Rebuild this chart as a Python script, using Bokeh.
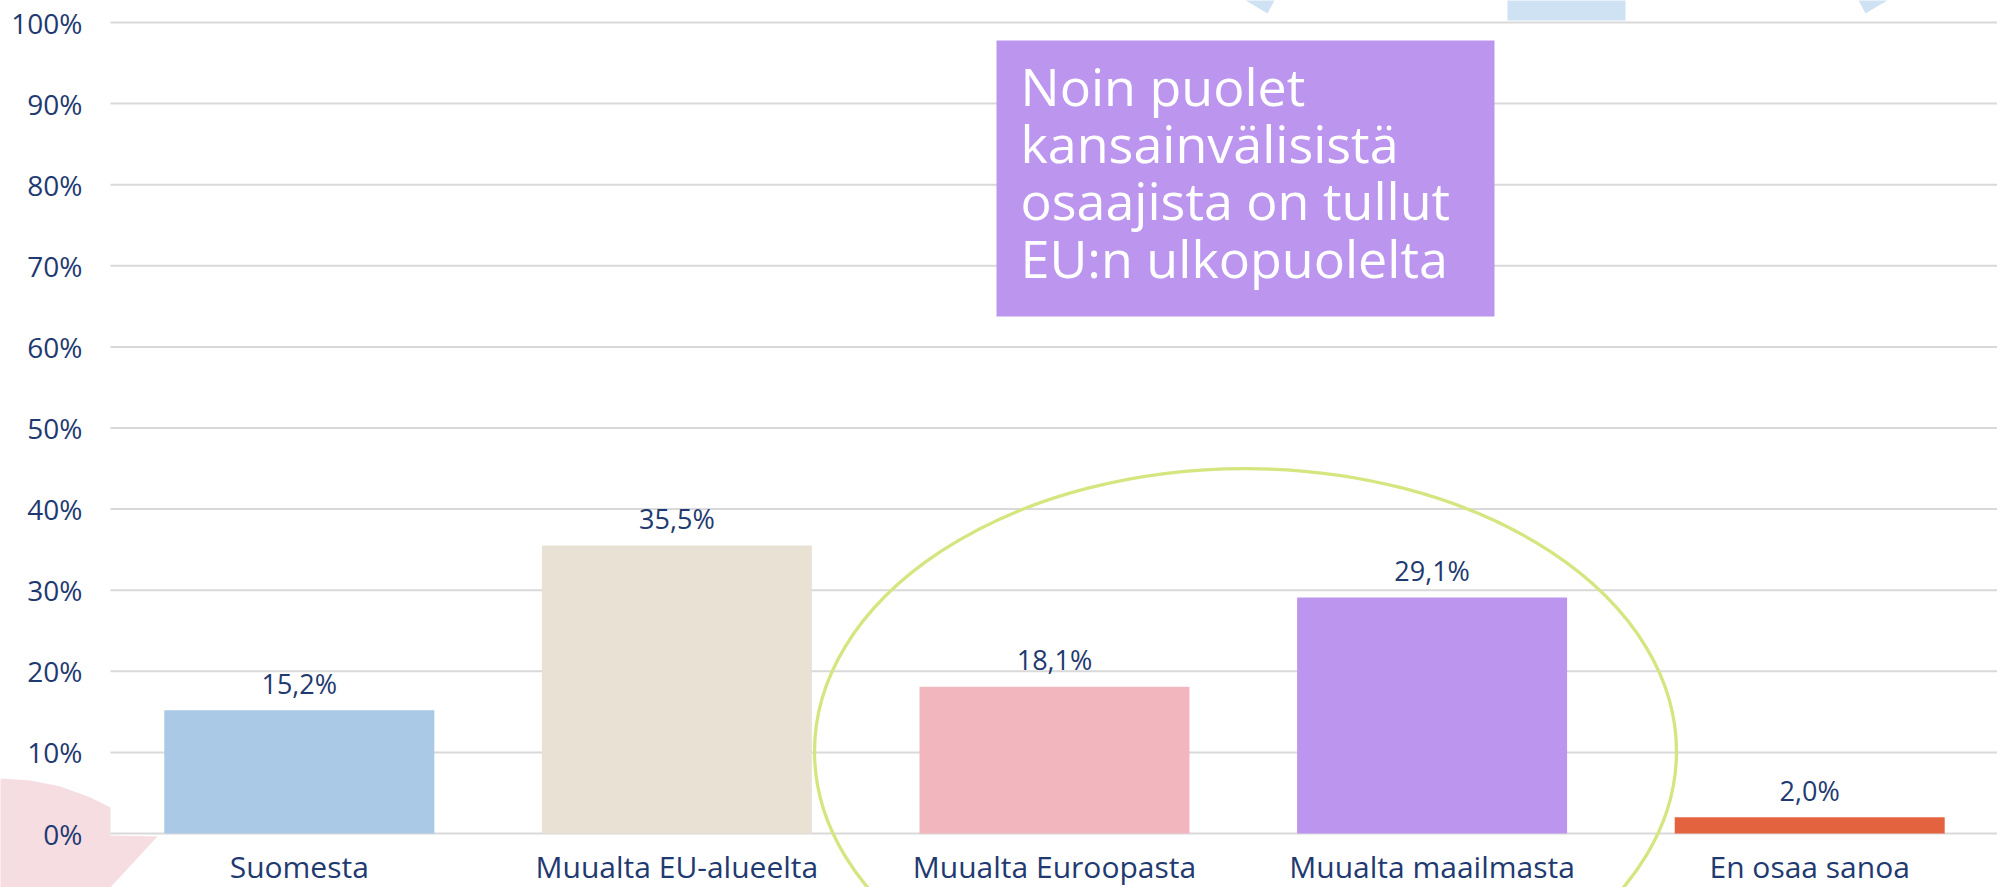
from bokeh.plotting import figure
from bokeh.models import FixedTicker, PrintfTickFormatter, ColumnDataSource
from bokeh.embed import file_html
from bokeh.resources import INLINE
from bokeh.core.properties import value

# ---- data ----
categories = ["Suomesta", "Muualta EU-alueelta", "Muualta Euroopasta",
              "Muualta maailmasta", "En osaa sanoa"]
values = [15.2, 35.5, 18.1, 29.1, 2.0]
value_labels = ["15,2%", "35,5%", "18,1%", "29,1%", "2,0%"]
bar_colors = ["#A9C9E7", "#E8E1D4", "#F2B6BE", "#BC95EE", "#E4633F"]
y_ticks = [0, 10, 20, 30, 40, 50, 60, 70, 80, 90, 100]
callout_lines = ["Noin puolet", "kansainvälisistä", "osaajista on tullut", "EU:n ulkopuolelta"]

NAVY = "#1F3A70"
FONT = "Open Sans"

# ---- layout (canvas pixels) ----
W, H = 1997, 887
PLOT_LEFT = 110       # px where category -0.5 sits
PX_PER_CAT = 377.6
PX_PER_PCT = 8.11
ZERO_Y = 833          # px of the 0% line

x_start = -0.5 - PLOT_LEFT / PX_PER_CAT
x_end = x_start + W / PX_PER_CAT
y_end = ZERO_Y / PX_PER_PCT
y_start = -(H - ZERO_Y) / PX_PER_PCT


def px_x(px):
    return px / PX_PER_CAT + x_start


def px_y(py):
    return (ZERO_Y - py) / PX_PER_PCT


p = figure(width=W, height=H, x_range=(x_start, x_end), y_range=(y_start, y_end),
           output_backend="svg", toolbar_location=None,
           min_border_left=0, min_border_right=0, min_border_top=0, min_border_bottom=0)
p.outline_line_color = None
p.background_fill_color = "white"
p.border_fill_color = "white"
p.xgrid.visible = False
p.ygrid.visible = False

# decorations (slide background shapes)
p.patch(x=[px_x(v) for v in [-5, 0, 30, 60, 90, 110, 110, 157, 107, -5]],
        y=[px_y(v) for v in [777, 778, 780, 786, 797, 807, 835, 836, 890, 890]],
        fill_color="#F6DDE2", line_color=None, level="underlay")
p.patches(xs=[[px_x(v) for v in [1242, 1267, 1275]],
              [px_x(v) for v in [1507, 1507, 1625, 1625]],
              [px_x(v) for v in [1857, 1865, 1890]]],
          ys=[[px_y(v) for v in [-2, 13, -2]],
              [px_y(v) for v in [-2, 20, 20, -2]],
              [px_y(v) for v in [-2, 13, -2]]],
          fill_color="#CFE2F3", line_color=None, level="underlay")

# horizontal gridlines at the y ticks, spanning the category area
p.segment(x0=[-0.5] * len(y_ticks), x1=[x_end] * len(y_ticks), y0=y_ticks, y1=y_ticks,
          line_color="#D9D9D9", line_width=2, level="underlay")

# bars
xs = list(range(len(categories)))
src = ColumnDataSource(dict(x=xs, top=values, color=bar_colors, label=value_labels))
p.vbar(x="x", top="top", bottom=0, width=0.715, fill_color="color", line_color=None, source=src)
p.text(x="x", y="top", text="label", source=src, y_offset=-27,
       text_align="center", text_baseline="alphabetic",
       text_font=value(FONT), text_font_size="27px", text_color=NAVY)

# callout box
p.quad(left=px_x(996), right=px_x(1494), top=px_y(40), bottom=px_y(316),
       fill_color="#BC95EE", line_color=None)
p.text(x=[px_x(1020)] * 4, y=[px_y(b) for b in [85, 142, 199, 257]], text=callout_lines,
       text_align="left", text_baseline="alphabetic",
       text_font=value(FONT), text_font_size="52px", text_color="white")

# highlight ellipse
p.ellipse(x=px_x(1245), y=px_y(751), width=2 * 431 / PX_PER_CAT, height=2 * 283 / PX_PER_PCT,
          fill_color=None, line_color="#D5E57F", line_width=3.3)

# axes
p.xaxis.ticker = FixedTicker(ticks=xs)
p.xaxis.major_label_overrides = {i: c for i, c in enumerate(categories)}
p.xaxis.fixed_location = 0
p.xaxis.major_tick_out = 0
p.xaxis.major_tick_in = 0
p.xaxis.major_label_standoff = 12
p.xaxis.major_label_text_font = FONT
p.xaxis.major_label_text_font_size = "30px"
p.xaxis.major_label_text_color = NAVY
p.xaxis.axis_line_color = None
p.xaxis.major_tick_line_color = None
p.xaxis.minor_tick_line_color = None

p.yaxis.ticker = FixedTicker(ticks=y_ticks)
p.yaxis.formatter = PrintfTickFormatter(format="%d%%")
p.yaxis.fixed_location = -0.5
p.yaxis.major_tick_out = 0
p.yaxis.major_tick_in = 0
p.yaxis.major_label_standoff = 28
p.yaxis.major_label_text_font = FONT
p.yaxis.major_label_text_font_size = "28px"
p.yaxis.major_label_text_color = NAVY
p.yaxis.axis_line_color = None
p.yaxis.major_tick_line_color = None
p.yaxis.minor_tick_line_color = None

open("out.html", "w").write(file_html(p, INLINE))
